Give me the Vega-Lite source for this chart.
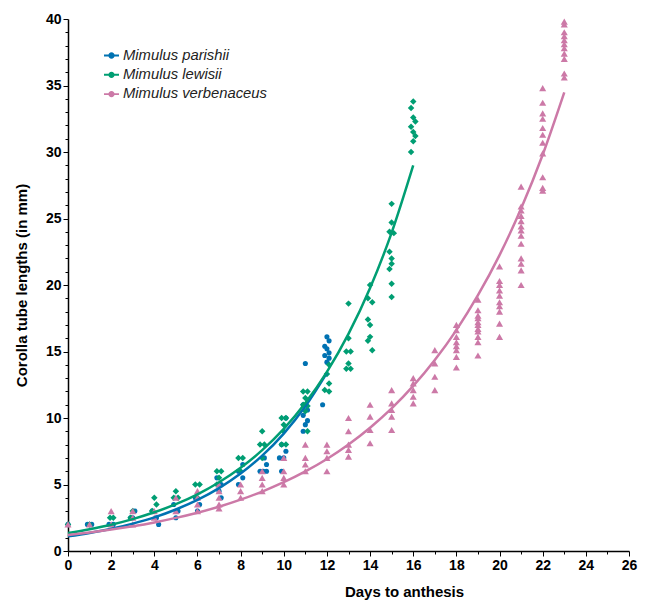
{
  "$schema": "https://vega.github.io/schema/vega-lite/v6.json",
  "autosize": {"type": "none"},
  "padding": {"left": 68, "top": 19, "right": 20, "bottom": 50},
  "width": 561,
  "height": 532,
  "background": "white",
  "config": {
    "view": {"stroke": null},
    "font": "Liberation Sans",
    "axis": {
      "grid": false,
      "labelFont": "Liberation Sans",
      "labelFontWeight": "bold",
      "labelFontSize": 14,
      "labelColor": "black",
      "labelFlush": false,
      "labelOverlap": false,
      "titleFont": "Liberation Sans",
      "titleFontWeight": "bold",
      "titleFontSize": 15,
      "titleColor": "black",
      "domainColor": "black",
      "domainWidth": 1.5,
      "tickColor": "black",
      "tickWidth": 1
    },
    "legend": {
      "labelFont": "Liberation Sans",
      "labelFontStyle": "italic",
      "labelFontSize": 14.8,
      "labelColor": "#222222"
    }
  },
  "datasets": {
    "points": [
      {"species": "Mimulus parishii", "day": 0, "length": 2.0},
      {"species": "Mimulus parishii", "day": 0.9, "length": 2.0},
      {"species": "Mimulus parishii", "day": 1.1, "length": 2.0},
      {"species": "Mimulus parishii", "day": 1.9, "length": 2.0},
      {"species": "Mimulus parishii", "day": 2.1, "length": 2.0},
      {"species": "Mimulus parishii", "day": 2.9, "length": 2.5},
      {"species": "Mimulus parishii", "day": 3.1, "length": 3.0},
      {"species": "Mimulus parishii", "day": 3.0, "length": 2.5},
      {"species": "Mimulus parishii", "day": 3.9, "length": 3.0},
      {"species": "Mimulus parishii", "day": 4.1, "length": 2.5},
      {"species": "Mimulus parishii", "day": 4.2, "length": 2.0},
      {"species": "Mimulus parishii", "day": 4.9, "length": 3.5},
      {"species": "Mimulus parishii", "day": 5.1, "length": 3.0},
      {"species": "Mimulus parishii", "day": 5.0, "length": 2.5},
      {"species": "Mimulus parishii", "day": 5.9, "length": 4.0},
      {"species": "Mimulus parishii", "day": 6.1, "length": 3.5},
      {"species": "Mimulus parishii", "day": 6.0, "length": 3.0},
      {"species": "Mimulus parishii", "day": 6.9, "length": 5.5},
      {"species": "Mimulus parishii", "day": 7.1, "length": 5.0},
      {"species": "Mimulus parishii", "day": 7.0, "length": 4.5},
      {"species": "Mimulus parishii", "day": 7.1, "length": 4.0},
      {"species": "Mimulus parishii", "day": 8.1, "length": 6.5},
      {"species": "Mimulus parishii", "day": 7.9, "length": 6.0},
      {"species": "Mimulus parishii", "day": 8.1, "length": 5.5},
      {"species": "Mimulus parishii", "day": 7.9, "length": 5.0},
      {"species": "Mimulus parishii", "day": 9.1, "length": 7.0},
      {"species": "Mimulus parishii", "day": 9.2, "length": 6.5},
      {"species": "Mimulus parishii", "day": 8.9, "length": 6.0},
      {"species": "Mimulus parishii", "day": 9.05, "length": 6.0},
      {"species": "Mimulus parishii", "day": 9.2, "length": 6.0},
      {"species": "Mimulus parishii", "day": 10.1, "length": 10.0},
      {"species": "Mimulus parishii", "day": 9.9, "length": 8.0},
      {"species": "Mimulus parishii", "day": 10.1, "length": 7.5},
      {"species": "Mimulus parishii", "day": 9.8, "length": 7.0},
      {"species": "Mimulus parishii", "day": 10.0, "length": 7.0},
      {"species": "Mimulus parishii", "day": 9.9, "length": 6.0},
      {"species": "Mimulus parishii", "day": 11.0, "length": 14.1},
      {"species": "Mimulus parishii", "day": 10.9, "length": 11.0},
      {"species": "Mimulus parishii", "day": 11.1, "length": 10.6},
      {"species": "Mimulus parishii", "day": 10.9, "length": 10.2},
      {"species": "Mimulus parishii", "day": 11.1, "length": 9.8},
      {"species": "Mimulus parishii", "day": 11.0, "length": 9.5},
      {"species": "Mimulus parishii", "day": 10.9, "length": 9.0},
      {"species": "Mimulus parishii", "day": 12.0, "length": 16.1},
      {"species": "Mimulus parishii", "day": 12.1, "length": 15.8},
      {"species": "Mimulus parishii", "day": 11.9, "length": 15.4},
      {"species": "Mimulus parishii", "day": 12.0, "length": 15.2},
      {"species": "Mimulus parishii", "day": 12.1, "length": 14.9},
      {"species": "Mimulus parishii", "day": 11.9, "length": 14.7},
      {"species": "Mimulus parishii", "day": 12.1, "length": 14.5},
      {"species": "Mimulus parishii", "day": 12.0, "length": 14.2},
      {"species": "Mimulus parishii", "day": 11.8, "length": 11.0},

      {"species": "Mimulus lewisii", "day": 0, "length": 2.0},
      {"species": "Mimulus lewisii", "day": 1.0, "length": 2.0},
      {"species": "Mimulus lewisii", "day": 1.95, "length": 2.5},
      {"species": "Mimulus lewisii", "day": 2.1, "length": 2.5},
      {"species": "Mimulus lewisii", "day": 3.0, "length": 3.0},
      {"species": "Mimulus lewisii", "day": 2.9, "length": 2.5},
      {"species": "Mimulus lewisii", "day": 4.0, "length": 4.0},
      {"species": "Mimulus lewisii", "day": 4.1, "length": 3.5},
      {"species": "Mimulus lewisii", "day": 3.9, "length": 3.0},
      {"species": "Mimulus lewisii", "day": 5.0, "length": 4.5},
      {"species": "Mimulus lewisii", "day": 4.9, "length": 4.0},
      {"species": "Mimulus lewisii", "day": 5.1, "length": 4.0},
      {"species": "Mimulus lewisii", "day": 5.9, "length": 5.0},
      {"species": "Mimulus lewisii", "day": 6.1, "length": 5.0},
      {"species": "Mimulus lewisii", "day": 6.0, "length": 4.0},
      {"species": "Mimulus lewisii", "day": 6.9, "length": 6.0},
      {"species": "Mimulus lewisii", "day": 7.1, "length": 6.0},
      {"species": "Mimulus lewisii", "day": 7.0, "length": 5.5},
      {"species": "Mimulus lewisii", "day": 6.9, "length": 5.0},
      {"species": "Mimulus lewisii", "day": 7.9, "length": 7.0},
      {"species": "Mimulus lewisii", "day": 8.1, "length": 7.0},
      {"species": "Mimulus lewisii", "day": 8.0, "length": 6.0},
      {"species": "Mimulus lewisii", "day": 9.0, "length": 9.0},
      {"species": "Mimulus lewisii", "day": 8.9, "length": 8.0},
      {"species": "Mimulus lewisii", "day": 9.1, "length": 8.0},
      {"species": "Mimulus lewisii", "day": 9.0, "length": 7.0},
      {"species": "Mimulus lewisii", "day": 9.9, "length": 10.0},
      {"species": "Mimulus lewisii", "day": 10.1, "length": 10.0},
      {"species": "Mimulus lewisii", "day": 10.0, "length": 9.5},
      {"species": "Mimulus lewisii", "day": 10.0, "length": 9.0},
      {"species": "Mimulus lewisii", "day": 9.9, "length": 8.0},
      {"species": "Mimulus lewisii", "day": 10.1, "length": 8.0},
      {"species": "Mimulus lewisii", "day": 10.9, "length": 12.0},
      {"species": "Mimulus lewisii", "day": 11.1, "length": 12.0},
      {"species": "Mimulus lewisii", "day": 11.0, "length": 11.5},
      {"species": "Mimulus lewisii", "day": 10.9, "length": 11.0},
      {"species": "Mimulus lewisii", "day": 11.1, "length": 10.9},
      {"species": "Mimulus lewisii", "day": 11.0, "length": 10.5},
      {"species": "Mimulus lewisii", "day": 11.1, "length": 9.0},
      {"species": "Mimulus lewisii", "day": 12.1, "length": 14.0},
      {"species": "Mimulus lewisii", "day": 12.0, "length": 13.3},
      {"species": "Mimulus lewisii", "day": 12.1, "length": 12.6},
      {"species": "Mimulus lewisii", "day": 11.9, "length": 12.1},
      {"species": "Mimulus lewisii", "day": 12.1, "length": 12.0},
      {"species": "Mimulus lewisii", "day": 13.0, "length": 18.6},
      {"species": "Mimulus lewisii", "day": 13.0, "length": 16.0},
      {"species": "Mimulus lewisii", "day": 12.9, "length": 15.0},
      {"species": "Mimulus lewisii", "day": 13.1, "length": 15.0},
      {"species": "Mimulus lewisii", "day": 13.0, "length": 14.1},
      {"species": "Mimulus lewisii", "day": 12.9, "length": 13.7},
      {"species": "Mimulus lewisii", "day": 13.1, "length": 13.7},
      {"species": "Mimulus lewisii", "day": 14.0, "length": 20.0},
      {"species": "Mimulus lewisii", "day": 13.9, "length": 19.0},
      {"species": "Mimulus lewisii", "day": 14.1, "length": 18.7},
      {"species": "Mimulus lewisii", "day": 13.9, "length": 17.4},
      {"species": "Mimulus lewisii", "day": 14.0, "length": 17.0},
      {"species": "Mimulus lewisii", "day": 14.0, "length": 16.1},
      {"species": "Mimulus lewisii", "day": 13.9, "length": 15.8},
      {"species": "Mimulus lewisii", "day": 14.1, "length": 15.1},
      {"species": "Mimulus lewisii", "day": 15.0, "length": 26.1},
      {"species": "Mimulus lewisii", "day": 15.0, "length": 24.7},
      {"species": "Mimulus lewisii", "day": 14.9, "length": 24.0},
      {"species": "Mimulus lewisii", "day": 15.1, "length": 23.9},
      {"species": "Mimulus lewisii", "day": 14.9, "length": 22.5},
      {"species": "Mimulus lewisii", "day": 15.0, "length": 22.0},
      {"species": "Mimulus lewisii", "day": 15.0, "length": 21.6},
      {"species": "Mimulus lewisii", "day": 14.9, "length": 21.2},
      {"species": "Mimulus lewisii", "day": 15.0, "length": 20.1},
      {"species": "Mimulus lewisii", "day": 15.0, "length": 19.1},
      {"species": "Mimulus lewisii", "day": 16.0, "length": 33.8},
      {"species": "Mimulus lewisii", "day": 15.9, "length": 33.3},
      {"species": "Mimulus lewisii", "day": 16.0, "length": 32.6},
      {"species": "Mimulus lewisii", "day": 16.1, "length": 32.3},
      {"species": "Mimulus lewisii", "day": 15.9, "length": 31.9},
      {"species": "Mimulus lewisii", "day": 16.0, "length": 31.5},
      {"species": "Mimulus lewisii", "day": 16.1, "length": 31.2},
      {"species": "Mimulus lewisii", "day": 16.0, "length": 30.8},
      {"species": "Mimulus lewisii", "day": 15.9, "length": 30.0},

      {"species": "Mimulus verbenaceus", "day": 0, "length": 2.0},
      {"species": "Mimulus verbenaceus", "day": 1, "length": 2.0},
      {"species": "Mimulus verbenaceus", "day": 2, "length": 3.0},
      {"species": "Mimulus verbenaceus", "day": 2, "length": 2.0},
      {"species": "Mimulus verbenaceus", "day": 3, "length": 3.0},
      {"species": "Mimulus verbenaceus", "day": 3, "length": 2.5},
      {"species": "Mimulus verbenaceus", "day": 3, "length": 2.0},
      {"species": "Mimulus verbenaceus", "day": 4, "length": 3.0},
      {"species": "Mimulus verbenaceus", "day": 4, "length": 2.5},
      {"species": "Mimulus verbenaceus", "day": 5, "length": 4.0},
      {"species": "Mimulus verbenaceus", "day": 5, "length": 3.0},
      {"species": "Mimulus verbenaceus", "day": 6, "length": 4.5},
      {"species": "Mimulus verbenaceus", "day": 6, "length": 4.0},
      {"species": "Mimulus verbenaceus", "day": 6, "length": 3.5},
      {"species": "Mimulus verbenaceus", "day": 6, "length": 3.0},
      {"species": "Mimulus verbenaceus", "day": 7, "length": 5.0},
      {"species": "Mimulus verbenaceus", "day": 7, "length": 4.5},
      {"species": "Mimulus verbenaceus", "day": 7, "length": 4.0},
      {"species": "Mimulus verbenaceus", "day": 7, "length": 3.5},
      {"species": "Mimulus verbenaceus", "day": 7, "length": 3.2},
      {"species": "Mimulus verbenaceus", "day": 8, "length": 5.0},
      {"species": "Mimulus verbenaceus", "day": 8, "length": 4.5},
      {"species": "Mimulus verbenaceus", "day": 8, "length": 4.0},
      {"species": "Mimulus verbenaceus", "day": 9, "length": 6.0},
      {"species": "Mimulus verbenaceus", "day": 9, "length": 5.5},
      {"species": "Mimulus verbenaceus", "day": 9, "length": 5.0},
      {"species": "Mimulus verbenaceus", "day": 9, "length": 4.5},
      {"species": "Mimulus verbenaceus", "day": 10, "length": 7.0},
      {"species": "Mimulus verbenaceus", "day": 10, "length": 6.0},
      {"species": "Mimulus verbenaceus", "day": 10, "length": 5.5},
      {"species": "Mimulus verbenaceus", "day": 10, "length": 5.0},
      {"species": "Mimulus verbenaceus", "day": 11, "length": 8.0},
      {"species": "Mimulus verbenaceus", "day": 11, "length": 7.0},
      {"species": "Mimulus verbenaceus", "day": 11, "length": 6.5},
      {"species": "Mimulus verbenaceus", "day": 11, "length": 6.0},
      {"species": "Mimulus verbenaceus", "day": 12, "length": 8.0},
      {"species": "Mimulus verbenaceus", "day": 12, "length": 7.5},
      {"species": "Mimulus verbenaceus", "day": 12, "length": 7.0},
      {"species": "Mimulus verbenaceus", "day": 12, "length": 6.0},
      {"species": "Mimulus verbenaceus", "day": 13, "length": 10.0},
      {"species": "Mimulus verbenaceus", "day": 13, "length": 9.0},
      {"species": "Mimulus verbenaceus", "day": 13, "length": 8.0},
      {"species": "Mimulus verbenaceus", "day": 13, "length": 7.6},
      {"species": "Mimulus verbenaceus", "day": 13, "length": 7.1},
      {"species": "Mimulus verbenaceus", "day": 14, "length": 11.0},
      {"species": "Mimulus verbenaceus", "day": 14, "length": 10.1},
      {"species": "Mimulus verbenaceus", "day": 14, "length": 9.1},
      {"species": "Mimulus verbenaceus", "day": 14, "length": 8.1},
      {"species": "Mimulus verbenaceus", "day": 15, "length": 12.1},
      {"species": "Mimulus verbenaceus", "day": 15, "length": 11.1},
      {"species": "Mimulus verbenaceus", "day": 15, "length": 10.6},
      {"species": "Mimulus verbenaceus", "day": 15, "length": 10.1},
      {"species": "Mimulus verbenaceus", "day": 15, "length": 9.1},
      {"species": "Mimulus verbenaceus", "day": 16, "length": 13.0},
      {"species": "Mimulus verbenaceus", "day": 16, "length": 12.6},
      {"species": "Mimulus verbenaceus", "day": 16, "length": 12.1},
      {"species": "Mimulus verbenaceus", "day": 16, "length": 11.6},
      {"species": "Mimulus verbenaceus", "day": 16, "length": 11.1},
      {"species": "Mimulus verbenaceus", "day": 17, "length": 15.1},
      {"species": "Mimulus verbenaceus", "day": 17, "length": 14.1},
      {"species": "Mimulus verbenaceus", "day": 17, "length": 13.1},
      {"species": "Mimulus verbenaceus", "day": 17, "length": 12.1},
      {"species": "Mimulus verbenaceus", "day": 18, "length": 17.0},
      {"species": "Mimulus verbenaceus", "day": 18, "length": 16.6},
      {"species": "Mimulus verbenaceus", "day": 18, "length": 16.1},
      {"species": "Mimulus verbenaceus", "day": 18, "length": 15.7},
      {"species": "Mimulus verbenaceus", "day": 18, "length": 15.4},
      {"species": "Mimulus verbenaceus", "day": 18, "length": 15.1},
      {"species": "Mimulus verbenaceus", "day": 18, "length": 14.6},
      {"species": "Mimulus verbenaceus", "day": 18, "length": 13.8},
      {"species": "Mimulus verbenaceus", "day": 19, "length": 18.9},
      {"species": "Mimulus verbenaceus", "day": 19, "length": 18.1},
      {"species": "Mimulus verbenaceus", "day": 19, "length": 17.7},
      {"species": "Mimulus verbenaceus", "day": 19, "length": 17.5},
      {"species": "Mimulus verbenaceus", "day": 19, "length": 17.2},
      {"species": "Mimulus verbenaceus", "day": 19, "length": 17.0},
      {"species": "Mimulus verbenaceus", "day": 19, "length": 16.7},
      {"species": "Mimulus verbenaceus", "day": 19, "length": 16.5},
      {"species": "Mimulus verbenaceus", "day": 19, "length": 16.1},
      {"species": "Mimulus verbenaceus", "day": 19, "length": 15.7},
      {"species": "Mimulus verbenaceus", "day": 19, "length": 14.7},
      {"species": "Mimulus verbenaceus", "day": 20, "length": 21.4},
      {"species": "Mimulus verbenaceus", "day": 20, "length": 20.3},
      {"species": "Mimulus verbenaceus", "day": 20, "length": 20.0},
      {"species": "Mimulus verbenaceus", "day": 20, "length": 19.6},
      {"species": "Mimulus verbenaceus", "day": 20, "length": 19.2},
      {"species": "Mimulus verbenaceus", "day": 20, "length": 18.7},
      {"species": "Mimulus verbenaceus", "day": 20, "length": 18.4},
      {"species": "Mimulus verbenaceus", "day": 20, "length": 18.0},
      {"species": "Mimulus verbenaceus", "day": 20, "length": 17.1},
      {"species": "Mimulus verbenaceus", "day": 20, "length": 16.1},
      {"species": "Mimulus verbenaceus", "day": 21, "length": 27.4},
      {"species": "Mimulus verbenaceus", "day": 21, "length": 25.9},
      {"species": "Mimulus verbenaceus", "day": 21, "length": 25.6},
      {"species": "Mimulus verbenaceus", "day": 21, "length": 25.2},
      {"species": "Mimulus verbenaceus", "day": 21, "length": 24.8},
      {"species": "Mimulus verbenaceus", "day": 21, "length": 24.4},
      {"species": "Mimulus verbenaceus", "day": 21, "length": 24.1},
      {"species": "Mimulus verbenaceus", "day": 21, "length": 23.7},
      {"species": "Mimulus verbenaceus", "day": 21, "length": 23.1},
      {"species": "Mimulus verbenaceus", "day": 21, "length": 22.0},
      {"species": "Mimulus verbenaceus", "day": 21, "length": 21.6},
      {"species": "Mimulus verbenaceus", "day": 21, "length": 21.1},
      {"species": "Mimulus verbenaceus", "day": 21, "length": 20.0},
      {"species": "Mimulus verbenaceus", "day": 22, "length": 34.8},
      {"species": "Mimulus verbenaceus", "day": 22, "length": 33.7},
      {"species": "Mimulus verbenaceus", "day": 22, "length": 32.9},
      {"species": "Mimulus verbenaceus", "day": 22, "length": 32.5},
      {"species": "Mimulus verbenaceus", "day": 22, "length": 31.8},
      {"species": "Mimulus verbenaceus", "day": 22, "length": 31.3},
      {"species": "Mimulus verbenaceus", "day": 22, "length": 30.7},
      {"species": "Mimulus verbenaceus", "day": 22, "length": 29.9},
      {"species": "Mimulus verbenaceus", "day": 22, "length": 28.1},
      {"species": "Mimulus verbenaceus", "day": 22, "length": 27.3},
      {"species": "Mimulus verbenaceus", "day": 22, "length": 27.1},
      {"species": "Mimulus verbenaceus", "day": 23, "length": 39.8},
      {"species": "Mimulus verbenaceus", "day": 23, "length": 39.6},
      {"species": "Mimulus verbenaceus", "day": 23, "length": 39.0},
      {"species": "Mimulus verbenaceus", "day": 23, "length": 38.7},
      {"species": "Mimulus verbenaceus", "day": 23, "length": 38.4},
      {"species": "Mimulus verbenaceus", "day": 23, "length": 38.1},
      {"species": "Mimulus verbenaceus", "day": 23, "length": 37.8},
      {"species": "Mimulus verbenaceus", "day": 23, "length": 37.4},
      {"species": "Mimulus verbenaceus", "day": 23, "length": 37.0},
      {"species": "Mimulus verbenaceus", "day": 23, "length": 35.9},
      {"species": "Mimulus verbenaceus", "day": 23, "length": 35.6}
    ],
    "curves": [
      {"species": "Mimulus parishii", "day": 0, "length": 1.10},
      {"species": "Mimulus parishii", "day": 1, "length": 1.36},
      {"species": "Mimulus parishii", "day": 2, "length": 1.67},
      {"species": "Mimulus parishii", "day": 3, "length": 2.06},
      {"species": "Mimulus parishii", "day": 4, "length": 2.53},
      {"species": "Mimulus parishii", "day": 5, "length": 3.12},
      {"species": "Mimulus parishii", "day": 6, "length": 3.84},
      {"species": "Mimulus parishii", "day": 7, "length": 4.73},
      {"species": "Mimulus parishii", "day": 8, "length": 5.82},
      {"species": "Mimulus parishii", "day": 9, "length": 7.17},
      {"species": "Mimulus parishii", "day": 10, "length": 8.83},
      {"species": "Mimulus parishii", "day": 11, "length": 10.88},
      {"species": "Mimulus parishii", "day": 12, "length": 13.40},

      {"species": "Mimulus lewisii", "day": 0, "length": 1.35},
      {"species": "Mimulus lewisii", "day": 1, "length": 1.64},
      {"species": "Mimulus lewisii", "day": 2, "length": 1.98},
      {"species": "Mimulus lewisii", "day": 3, "length": 2.40},
      {"species": "Mimulus lewisii", "day": 4, "length": 2.91},
      {"species": "Mimulus lewisii", "day": 5, "length": 3.52},
      {"species": "Mimulus lewisii", "day": 6, "length": 4.26},
      {"species": "Mimulus lewisii", "day": 7, "length": 5.17},
      {"species": "Mimulus lewisii", "day": 8, "length": 6.26},
      {"species": "Mimulus lewisii", "day": 9, "length": 7.58},
      {"species": "Mimulus lewisii", "day": 10, "length": 9.18},
      {"species": "Mimulus lewisii", "day": 11, "length": 11.12},
      {"species": "Mimulus lewisii", "day": 12, "length": 13.47},
      {"species": "Mimulus lewisii", "day": 13, "length": 16.32},
      {"species": "Mimulus lewisii", "day": 14, "length": 19.77},
      {"species": "Mimulus lewisii", "day": 15, "length": 23.94},
      {"species": "Mimulus lewisii", "day": 16, "length": 29.00},

      {"species": "Mimulus verbenaceus", "day": 0, "length": 1.20},
      {"species": "Mimulus verbenaceus", "day": 1, "length": 1.39},
      {"species": "Mimulus verbenaceus", "day": 2, "length": 1.61},
      {"species": "Mimulus verbenaceus", "day": 3, "length": 1.86},
      {"species": "Mimulus verbenaceus", "day": 4, "length": 2.15},
      {"species": "Mimulus verbenaceus", "day": 5, "length": 2.49},
      {"species": "Mimulus verbenaceus", "day": 6, "length": 2.88},
      {"species": "Mimulus verbenaceus", "day": 7, "length": 3.33},
      {"species": "Mimulus verbenaceus", "day": 8, "length": 3.86},
      {"species": "Mimulus verbenaceus", "day": 9, "length": 4.47},
      {"species": "Mimulus verbenaceus", "day": 10, "length": 5.17},
      {"species": "Mimulus verbenaceus", "day": 11, "length": 5.98},
      {"species": "Mimulus verbenaceus", "day": 12, "length": 6.92},
      {"species": "Mimulus verbenaceus", "day": 13, "length": 8.01},
      {"species": "Mimulus verbenaceus", "day": 14, "length": 9.27},
      {"species": "Mimulus verbenaceus", "day": 15, "length": 10.72},
      {"species": "Mimulus verbenaceus", "day": 16, "length": 12.41},
      {"species": "Mimulus verbenaceus", "day": 17, "length": 14.36},
      {"species": "Mimulus verbenaceus", "day": 18, "length": 16.61},
      {"species": "Mimulus verbenaceus", "day": 19, "length": 19.23},
      {"species": "Mimulus verbenaceus", "day": 20, "length": 22.25},
      {"species": "Mimulus verbenaceus", "day": 21, "length": 25.75},
      {"species": "Mimulus verbenaceus", "day": 22, "length": 29.79},
      {"species": "Mimulus verbenaceus", "day": 23, "length": 34.48}
    ]
  },
  "encoding": {
    "x": {
      "field": "day", "type": "quantitative",
      "scale": {"domain": [0, 26], "nice": false, "zero": false},
      "axis": {
        "orient": "bottom",
        "values": [0, 1, 2, 3, 4, 5, 6, 7, 8, 9, 10, 11, 12, 13, 14, 15, 16, 17, 18, 19, 20, 21, 22, 23, 24, 25, 26],
        "labelExpr": "datum.value % 2 === 0 ? datum.label : ''",
        "tickSize": {"condition": {"test": "datum.value % 2 === 0", "value": 5}, "value": 3},
        "labelPadding": 2,
        "title": "Days to anthesis",
        "titleX": 336,
        "titlePadding": 12
      }
    },
    "y": {
      "field": "length", "type": "quantitative",
      "scale": {"domain": [0, 40], "nice": false},
      "axis": {
        "orient": "left",
        "values": [0, 1, 2, 3, 4, 5, 6, 7, 8, 9, 10, 11, 12, 13, 14, 15, 16, 17, 18, 19, 20, 21, 22, 23, 24, 25, 26, 27, 28, 29, 30, 31, 32, 33, 34, 35, 36, 37, 38, 39, 40],
        "labelExpr": "datum.value % 5 === 0 ? datum.label : ''",
        "tickSize": {"condition": {"test": "datum.value % 5 === 0", "value": 5}, "value": 3},
        "labelPadding": 2,
        "title": "Corolla tube lengths (in mm)",
        "titlePadding": 16
      }
    },
    "color": {
      "field": "species", "type": "nominal",
      "scale": {
        "domain": ["Mimulus parishii", "Mimulus lewisii", "Mimulus verbenaceus"],
        "range": ["#0072B2", "#009E73", "#CC79A7"]
      },
      "legend": {
        "title": null,
        "orient": "none",
        "legendX": 36,
        "legendY": 29,
        "padding": 0,
        "symbolType": "M-1,-0.13L1,-0.13L1,0.13L-1,0.13Z M-0.42,0A0.42,0.42 0 1,1 0.42,0A0.42,0.42 0 1,1 -0.42,0Z",
        "symbolSize": 225,
        "symbolStrokeWidth": 0,
        "symbolOpacity": 1,
        "labelOffset": 4,
        "rowPadding": 3.3
      }
    }
  },
  "layer": [
    {
      "data": {"name": "points"},
      "transform": [{"filter": "datum.species === 'Mimulus parishii'"}],
      "mark": {"type": "point", "shape": "circle", "filled": true, "opacity": 1, "strokeWidth": 0, "size": 26}
    },
    {
      "data": {"name": "points"},
      "transform": [{"filter": "datum.species === 'Mimulus lewisii'"}],
      "mark": {"type": "point", "shape": "diamond", "filled": true, "opacity": 1, "strokeWidth": 0, "size": 42}
    },
    {
      "data": {"name": "points"},
      "transform": [{"filter": "datum.species === 'Mimulus verbenaceus'"}],
      "mark": {"type": "point", "shape": "triangle-up", "filled": true, "opacity": 1, "strokeWidth": 0, "size": 50}
    },
    {
      "data": {"name": "curves"},
      "mark": {"type": "line", "strokeWidth": 2.5, "interpolate": "monotone"},
      "encoding": {
        "detail": {"field": "species", "type": "nominal"}
      }
    }
  ]
}
